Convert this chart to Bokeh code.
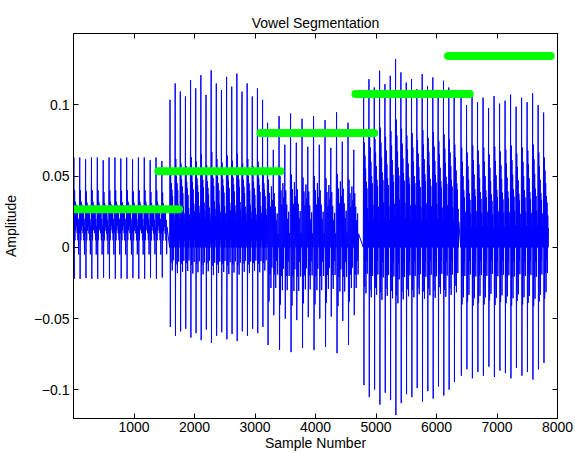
from bokeh.plotting import figure
from bokeh.models import LinearAxis, FixedTicker, CustomJSTickFormatter, Range1d
from bokeh.embed import file_html
from bokeh.resources import INLINE

# ---- data ----
# vowel regions of the waveform: start sample, pitch period (samples)
region_start = [0, 1590, 3200, 4790, 6400]
region_period = [97, 85, 190, 88, 91]
# one pitch period of each region, amplitude values at equal steps through the period
tpl_1 = [0.01, 0.063, -0.022, 0.04, 0.005, 0.032, 0.012, 0.03, 0.015, 0.028, 0.01, 0.025, 0.005, 0.02, -0.005, 0.015]
tpl_2 = [0.0, 0.115, -0.062, 0.062, -0.012, 0.05, 0.0, 0.045, -0.018, 0.04, 0.0, 0.03, -0.01, 0.025, 0.005, 0.02]
tpl_3 = [0.0, 0.092, -0.072, 0.05, -0.04, 0.04, -0.02, 0.03, -0.03, 0.045, -0.015, 0.035,
         0.0, 0.072, -0.05, 0.04, -0.02, 0.03, -0.03, 0.02, -0.01, 0.025, -0.02, 0.01]
tpl_4 = [0.0, 0.118, -0.105, 0.08, -0.03, 0.07, -0.02, 0.06, -0.035, 0.05, -0.01, 0.045, -0.02, 0.03, 0.0, 0.02]
tpl_5 = [0.0, 0.105, -0.09, 0.07, -0.04, 0.06, -0.02, 0.05, -0.035, 0.04, -0.01, 0.035, -0.02, 0.025, 0.0, 0.015]
# relative height of every pitch pulse in each region
gain_1 = [1.0, 1.0, 0.98, 1.0, 1.0, 0.97, 1.0, 1.0, 0.99, 1.0, 0.98, 1.0, 1.0, 0.97, 1.0, 0.96]
gain_2 = [0.9, 1.0, 0.95, 0.92, 1.02, 0.97, 1.05, 0.93, 1.08, 1.0, 0.96, 1.04, 0.98, 1.06, 0.95, 1.0, 0.92, 0.97, 0.9]
gain_3 = [0.95, 1.0, 1.02, 0.98, 1.0, 0.97, 1.03, 0.95]
gain_4 = [0.92, 1.0, 0.95, 1.05, 0.97, 1.02, 1.12, 1.04, 0.98, 1.0, 0.94, 1.03, 0.96, 1.01, 0.93, 0.99, 0.95, 0.9]
gain_5 = [1.0, 0.95, 1.02, 0.97, 1.0, 0.93, 1.01, 0.96, 0.98, 1.02, 0.94, 1.0, 0.97, 1.03, 0.95, 0.9]

# green segmentation bars: start, end, level
seg_start = [0, 1400, 3090, 4660, 6190]
seg_end = [1745, 3420, 4970, 6550, 7886]
seg_level = [0.0267, 0.0534, 0.0803, 0.1075, 0.1342]

x_ticks = [1000, 2000, 3000, 4000, 5000, 6000, 7000, 8000]
y_ticks = [-0.1, -0.05, 0, 0.05, 0.1]

# ---- build waveform from the read pulses ----
templates = [tpl_1, tpl_2, tpl_3, tpl_4, tpl_5]
gains = [gain_1, gain_2, gain_3, gain_4, gain_5]
wx, wy = [], []
for start, period, tpl, g in zip(region_start, region_period, templates, gains):
    n = len(tpl)
    for k, gk in enumerate(g):
        base = start + k * period
        for i, v in enumerate(tpl):
            wx.append(base + period * i / n)
            wy.append(v * gk)

FONT = "Liberation Sans"
FS = "14px"

p = figure(width=575, height=453, output_backend="svg", toolbar_location=None,
           x_range=Range1d(0, 8000), y_range=Range1d(-0.12, 0.15),
           min_border_left=72, min_border_right=18, min_border_top=33, min_border_bottom=34,
           title="Vowel Segmentation")
p.title.align = "center"
p.title.text_font = FONT
p.title.text_font_size = FS
p.title.text_font_style = "normal"
p.title.text_color = "black"
p.title.standoff = 6

p.line(wx, wy, line_color="#0000ff", line_width=1)
p.segment(x0=seg_start, x1=seg_end, y0=seg_level, y1=seg_level,
          line_color="#00ff00", line_width=8, line_cap="round")

p.grid.visible = False
p.outline_line_color = "black"
p.outline_line_width = 1
p.background_fill_color = "white"
p.border_fill_color = "white"

fmt = CustomJSTickFormatter(code="return tick < 0 ? '\u2212' + (-tick).toString() : tick.toString();")
blank = CustomJSTickFormatter(code="return '';")

for ax in p.xaxis:
    ax.ticker = FixedTicker(ticks=x_ticks)
    ax.major_label_standoff = 3
    ax.axis_label = "Sample Number"
    ax.axis_label_standoff = 0
for ax in p.yaxis:
    ax.ticker = FixedTicker(ticks=y_ticks)
    ax.formatter = fmt
    ax.axis_label = "Amplitude"
    ax.axis_label_standoff = 12
    ax.major_label_standoff = 4

for ax in p.xaxis + p.yaxis:
    ax.major_tick_in = 5
    ax.major_tick_out = 0
    ax.minor_tick_line_color = None
    ax.axis_line_color = "black"
    ax.major_label_text_font = FONT
    ax.major_label_text_font_size = FS
    ax.major_label_text_color = "black"
    ax.axis_label_text_font = FONT
    ax.axis_label_text_font_size = FS
    ax.axis_label_text_font_style = "normal"
    ax.axis_label_text_color = "black"

top = LinearAxis(ticker=FixedTicker(ticks=x_ticks), formatter=blank,
                 major_label_text_font_size="1px", major_label_text_color=None,
                 major_tick_in=5, major_tick_out=0, minor_tick_line_color=None,
                 major_label_standoff=0)
right = LinearAxis(ticker=FixedTicker(ticks=y_ticks), formatter=blank,
                   major_label_text_font_size="1px", major_label_text_color=None,
                   major_tick_in=5, major_tick_out=0, minor_tick_line_color=None,
                   major_label_standoff=0)
p.add_layout(top, "above")
p.add_layout(right, "right")

open("out.html", "w").write(file_html(p, INLINE))
